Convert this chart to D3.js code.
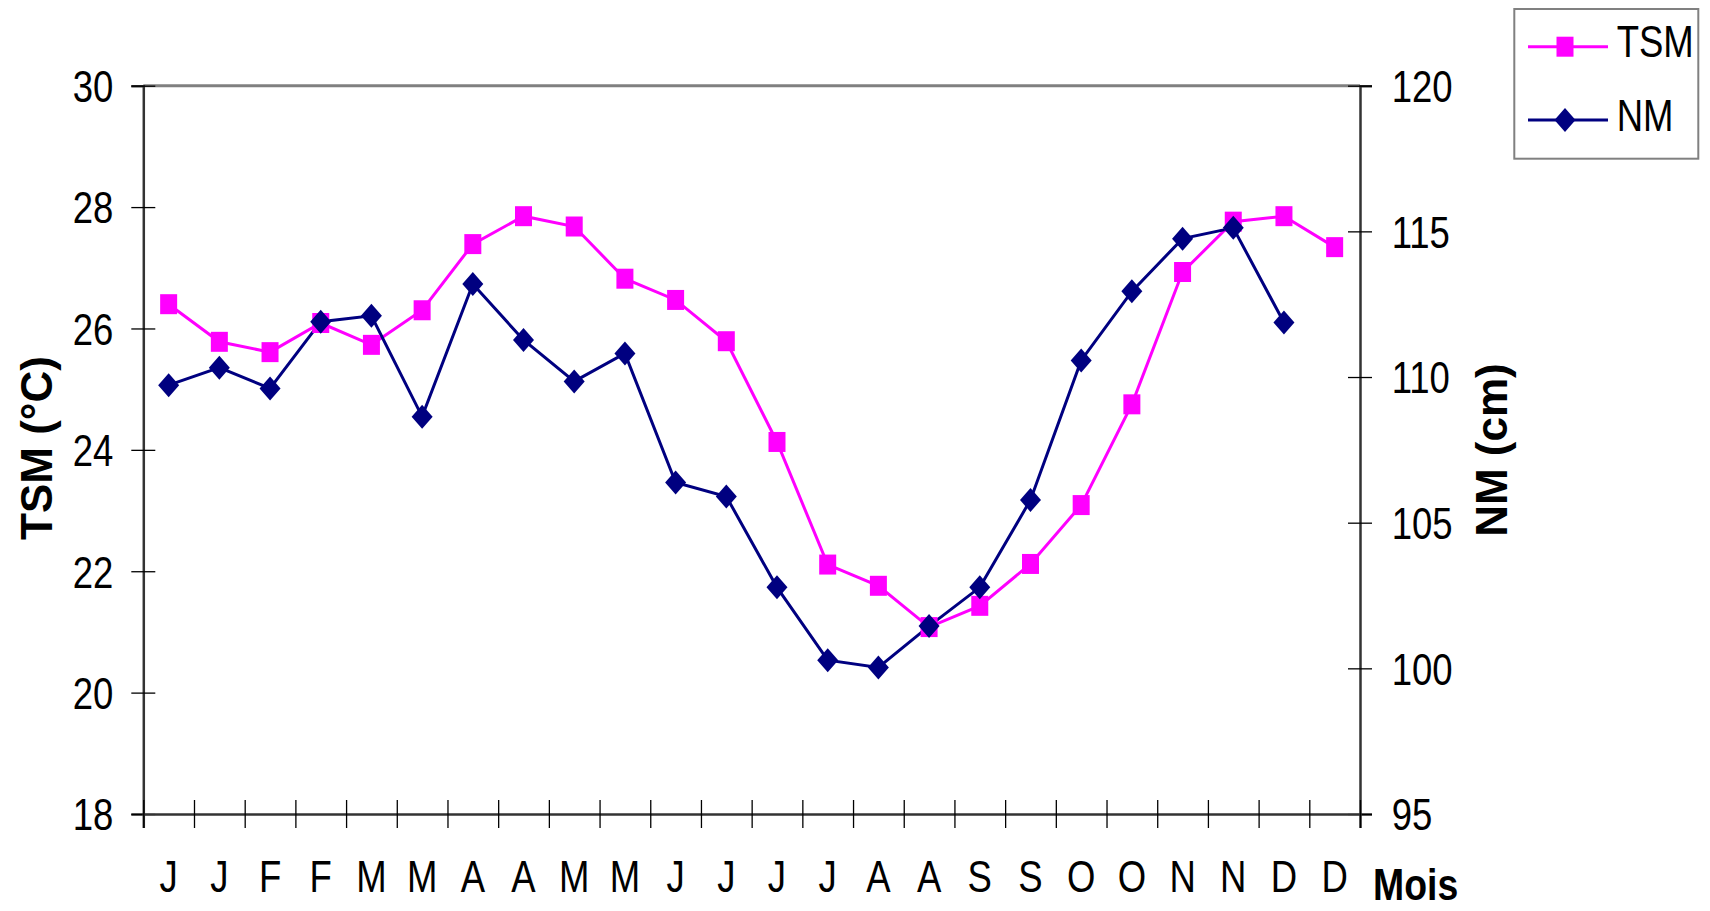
<!DOCTYPE html>
<html>
<head>
<meta charset="utf-8">
<script src="https://cdn.jsdelivr.net/npm/d3@7"></script>
<style>
html,body{margin:0;padding:0;background:#fff;}
svg{display:block;}
.narrow{font-family:"Liberation Sans",Arial,sans-serif;}
.bold{font-family:"Liberation Sans",Arial,sans-serif;font-weight:bold;}
</style>
</head>
<body>
<svg id="chart" width="1710" height="911"></svg>
<script>
const months = ["J","J","F","F","M","M","A","A","M","M","J","J","J","J","A","A","S","S","O","O","N","N","D","D"];
const tsm = [26.40,25.78,25.61,26.09,25.73,26.30,27.39,27.85,27.68,26.82,26.47,25.79,24.13,22.11,21.76,21.08,21.43,22.12,23.09,24.75,26.93,27.76,27.85,27.34];
const nm  = [109.72,110.32,109.61,111.90,112.10,108.64,113.19,111.27,109.85,110.81,106.38,105.90,102.78,100.28,100.03,101.45,102.78,105.78,110.57,112.94,114.75,115.12,111.87,null];
const leftTicks = [18,20,22,24,26,28,30];
const rightTicks = [95,100,105,110,115,120];
const seriesNames = ["TSM","NM"];
const colors = {TSM:"#FF00FF", NM:"#000080"};

const L = 143.3, R = 1360, T = 85.7, B = 814;
const SX = 0.83; // horizontal condensing of the text
const svg = d3.select("#chart");

const x = d3.scaleBand().domain(d3.range(months.length)).range([L, R]).padding(0);
const xb = d3.scaleLinear().domain([0, months.length]).range([L, R]);
const yL = d3.scaleLinear().domain([18, 30]).range([B, T]);
const yR = d3.scaleLinear().domain([95, 120]).range([B, T]);

function condense(sel, px, py, s) {
  sel.attr("x", 0).attr("y", 0).attr("dy", null)
     .attr("transform", `translate(${px},${py}) scale(${s || SX},1)`);
}

const squareSym = {draw(ctx){ const w=8.5, h=10; ctx.moveTo(-w,-h); ctx.lineTo(w,-h); ctx.lineTo(w,h); ctx.lineTo(-w,h); ctx.closePath(); }};
const diamondSym = {draw(ctx){ const w=10.5, h=12; ctx.moveTo(0,-h); ctx.lineTo(w,0); ctx.lineTo(0,h); ctx.lineTo(-w,0); ctx.closePath(); }};

svg.append("line").attr("x1", L).attr("x2", R).attr("y1", T).attr("y2", T)
  .attr("stroke", "#808080").attr("stroke-width", 3);

const gL = svg.append("g").attr("transform", `translate(${L},0)`)
  .call(d3.axisLeft(yL).tickValues(leftTicks).tickSize(12).tickPadding(30).tickFormat(d3.format("d")));
gL.select(".domain").attr("stroke", "#333").attr("stroke-width", 2.5);
gL.selectAll(".tick line").attr("x1", -12).attr("x2", 12).attr("stroke", "#000").attr("stroke-width", 1.3);
gL.selectAll(".tick text").attr("class", "narrow").attr("font-size", 44).attr("fill", "#000")
  .call(condense, -30, 15.8);

const gR = svg.append("g").attr("transform", `translate(${R},0)`)
  .call(d3.axisRight(yR).tickValues(rightTicks).tickSize(12).tickPadding(30).tickFormat(d3.format("d")));
gR.select(".domain").attr("stroke", "#333").attr("stroke-width", 2.5);
gR.selectAll(".tick line").attr("x1", -12).attr("x2", 12).attr("stroke", "#000").attr("stroke-width", 1.3);
gR.selectAll(".tick text").attr("class", "narrow").attr("font-size", 44).attr("fill", "#000")
  .call(condense, 31.7, 15.8);

const gB = svg.append("g").attr("transform", `translate(0,${B})`)
  .call(d3.axisBottom(xb).tickValues(d3.range(months.length + 1)).tickSize(14).tickFormat(""));
gB.select(".domain").attr("stroke", "#333").attr("stroke-width", 2.5);
gB.selectAll(".tick line").attr("y1", -14).attr("y2", 14).attr("stroke", "#000").attr("stroke-width", 1.3);

const gBL = svg.append("g").attr("transform", `translate(0,${B})`)
  .call(d3.axisBottom(x).tickSize(0).tickPadding(0).tickFormat(i => months[i]));
gBL.select(".domain").remove();
gBL.selectAll(".tick text").attr("class", "narrow").attr("font-size", 44).attr("fill", "#000")
  .call(condense, 0, 78);

const lineTSM = d3.line().defined(d => d != null).x((d, i) => x(i) + x.bandwidth() / 2).y(d => yL(d));
const lineNM  = d3.line().defined(d => d != null).x((d, i) => x(i) + x.bandwidth() / 2).y(d => yR(d));

svg.append("path").datum(tsm).attr("d", lineTSM).attr("fill", "none").attr("stroke", colors.TSM).attr("stroke-width", 3);
svg.append("path").datum(nm).attr("d", lineNM).attr("fill", "none").attr("stroke", colors.NM).attr("stroke-width", 3);

svg.append("g").selectAll("path").data(tsm.map((v, i) => ({v, i})).filter(d => d.v != null)).join("path")
  .attr("d", d3.symbol().type(squareSym))
  .attr("transform", d => `translate(${x(d.i) + x.bandwidth() / 2},${yL(d.v)})`)
  .attr("fill", colors.TSM);
svg.append("g").selectAll("path").data(nm.map((v, i) => ({v, i})).filter(d => d.v != null)).join("path")
  .attr("d", d3.symbol().type(diamondSym))
  .attr("transform", d => `translate(${x(d.i) + x.bandwidth() / 2},${yR(d.v)})`)
  .attr("fill", colors.NM);

svg.append("text").attr("class", "bold").attr("font-size", 44).attr("text-anchor", "middle")
  .attr("transform", "translate(51.5,448) rotate(-90)").text("TSM (°C)");
svg.append("text").attr("class", "bold").attr("font-size", 44).attr("text-anchor", "middle")
  .attr("transform", "translate(1506.5,450) rotate(-90)").text("NM (cm)");
svg.append("text").attr("class", "bold").attr("font-size", 44)
  .call(condense, 1373, 900, 0.85).text("Mois");

const lg = svg.append("g");
lg.append("rect").attr("x", 1514.3).attr("y", 9).attr("width", 184).attr("height", 149.7)
  .attr("fill", "#fff").attr("stroke", "#808080").attr("stroke-width", 2);
const legY = {TSM: 46.7, NM: 120};
seriesNames.forEach(name => {
  const y = legY[name];
  lg.append("line").attr("x1", 1528).attr("x2", 1608).attr("y1", y).attr("y2", y)
    .attr("stroke", colors[name]).attr("stroke-width", 3);
  lg.append("path").attr("d", d3.symbol().type(name === "TSM" ? squareSym : diamondSym))
    .attr("transform", `translate(1565,${y})`).attr("fill", colors[name]);
  lg.append("text").attr("class", "narrow").attr("font-size", 44)
    .call(condense, 1616.7, y + 10.5).text(name);
});
</script>
</body>
</html>
